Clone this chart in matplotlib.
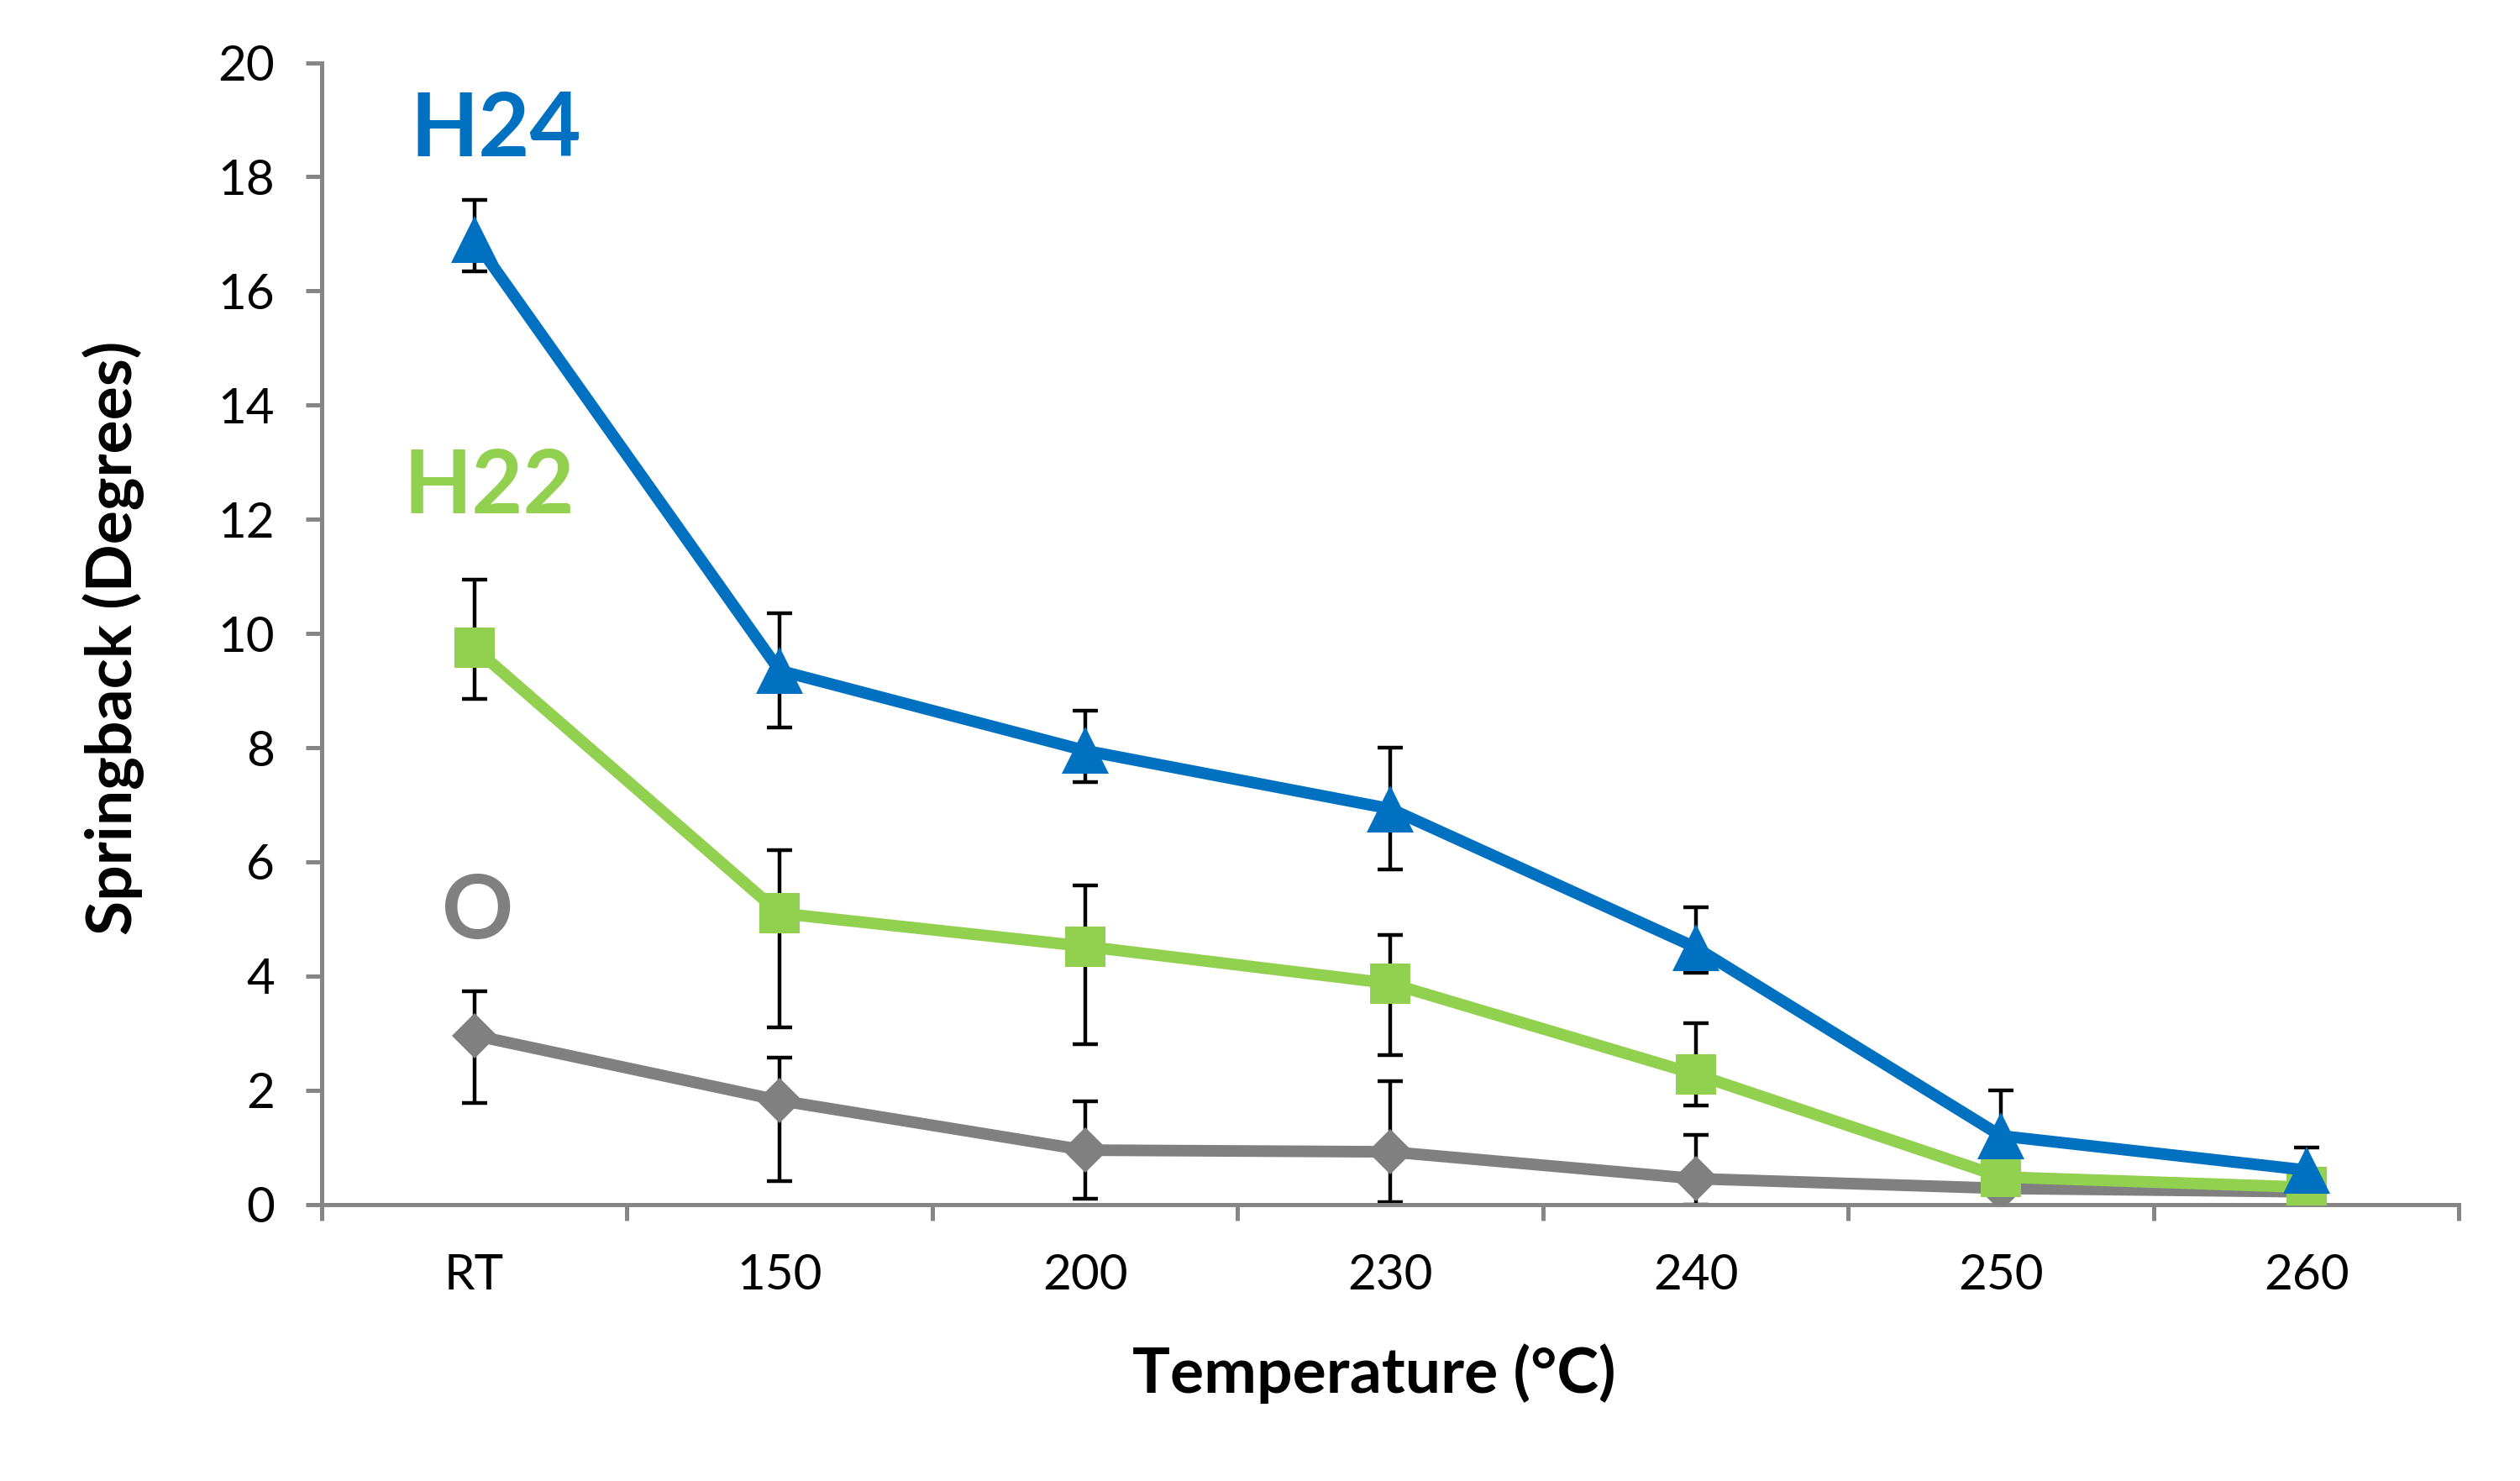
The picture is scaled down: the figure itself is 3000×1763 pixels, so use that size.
import matplotlib
matplotlib.use("Agg")
import matplotlib.pyplot as plt
import numpy as np

# categories and series values
temps = ['RT', '150', '200', '230', '240', '250', '260']

h24 = [16.9, 9.35, 7.95, 6.93, 4.5, 1.2, 0.6]
h24_err_lo = [0.55, 1.0, 0.55, 1.07, 0.45, 0.8, 0.4]
h24_err_hi = [0.7, 1.0, 0.7, 1.07, 0.7, 0.8, 0.4]

h22 = [9.75, 5.1, 4.52, 3.87, 2.28, 0.48, 0.3]
h22_err_lo = [0.9, 2.0, 1.72, 1.25, 0.55, 0.0, 0.0]
h22_err_hi = [1.2, 1.1, 1.07, 0.85, 0.9, 0.0, 0.0]

o = [2.96, 1.82, 0.95, 0.92, 0.45, 0.28, 0.22]
o_err_lo = [1.18, 1.42, 0.85, 0.88, 0.45, 0.0, 0.0]
o_err_hi = [0.78, 0.75, 0.85, 1.24, 0.76, 0.0, 0.0]

BLUE = '#0070C0'
GREEN = '#92D050'
GRAY = '#808080'
AXIS_GRAY = '#868686'

plt.rcParams['font.family'] = ['Lato', 'DejaVu Sans']

fig = plt.figure(figsize=(15, 8.815), dpi=200)
ax = fig.add_axes([0.1276, 0.1868, 0.8482, 0.7709])

x = np.arange(len(temps))

series = [
    (o, o_err_lo, o_err_hi, GRAY, 'D', 14),
    (h22, h22_err_lo, h22_err_hi, GREEN, 's', 17),
    (h24, h24_err_lo, h24_err_hi, BLUE, '^', 20),
]

# error bars first, lines and markers on top
for vals, lo, hi, col, mk, ms in series:
    ax.errorbar(x, vals, yerr=[lo, hi], fmt='none', ecolor='black',
                elinewidth=1.6, capsize=5.5, capthick=1.6, zorder=2)
for vals, lo, hi, col, mk, ms in series:
    ax.plot(x, vals, color=col, linewidth=5, marker=mk, markersize=ms,
            markeredgewidth=0, zorder=3)

# series labels
ax.text(0.07, 18.8, 'H24', color=BLUE, fontsize=38, fontweight='bold',
        ha='center', va='center')
ax.text(0.05, 12.55, 'H22', color=GREEN, fontsize=38, fontweight='bold',
        ha='center', va='center')
ax.text(0.01, 5.1, 'O', color=GRAY, fontsize=38, fontweight='bold',
        ha='center', va='center')

ax.set_xlim(-0.5, len(temps) - 0.5)
ax.set_ylim(0, 20)
ax.set_yticks(np.arange(0, 21, 2))
ax.set_xticks(x)
ax.set_xticklabels(temps)
ax.set_xticks(np.arange(-0.5, len(temps), 1.0), minor=True)

for side in ['top', 'right']:
    ax.spines[side].set_visible(False)
for side in ['left', 'bottom']:
    ax.spines[side].set_color(AXIS_GRAY)
    ax.spines[side].set_linewidth(1.8)

ax.tick_params(axis='x', which='major', length=0, pad=21, labelsize=21)
ax.tick_params(axis='x', which='minor', length=7, width=1.8, color=AXIS_GRAY)
ax.tick_params(axis='y', which='major', length=7, width=1.8, color=AXIS_GRAY,
               pad=13, labelsize=21)

ax.set_xlabel('Temperature (°C)', fontsize=27, fontweight='bold')
ax.set_ylabel('Springback (Degrees)', fontsize=27, fontweight='bold')
ax.xaxis.set_label_coords(0.4925, -0.122)
ax.yaxis.set_label_coords(-0.083, 0.496)

fig.savefig('out.png', dpi=200)
